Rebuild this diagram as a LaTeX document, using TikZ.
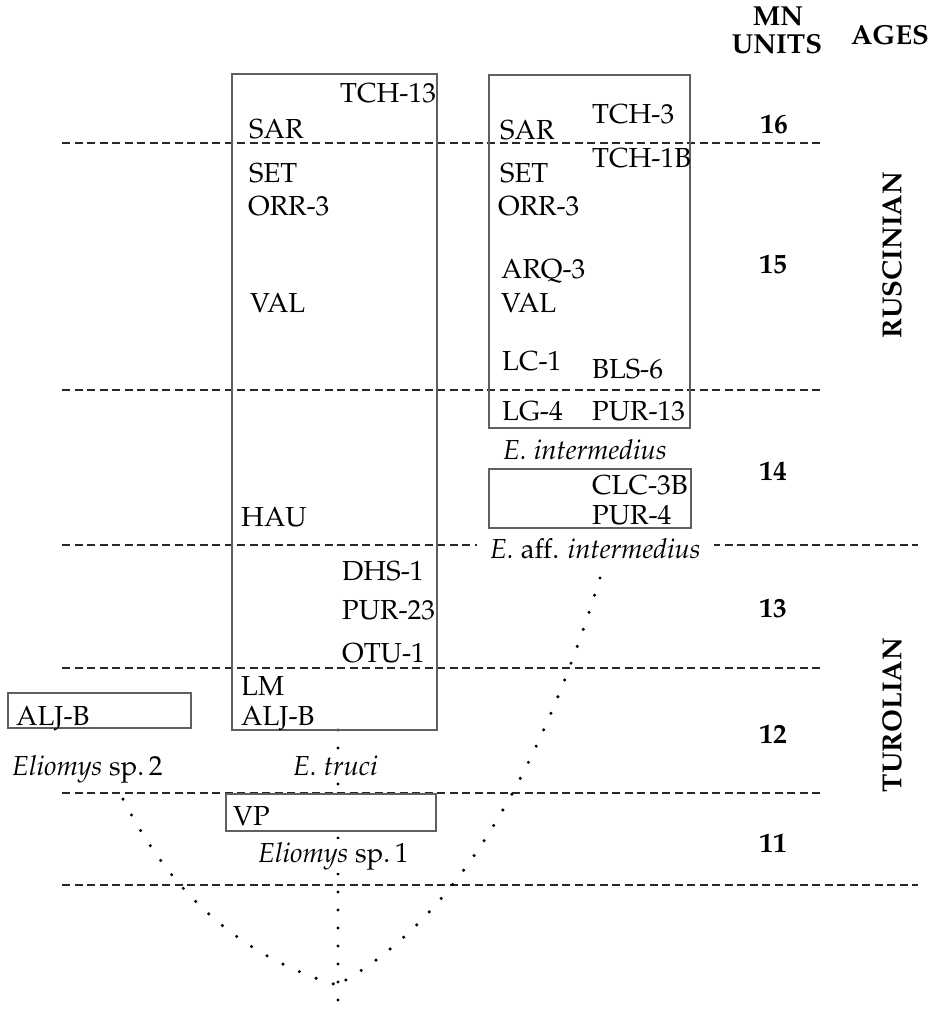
\documentclass[tikz,border=0pt]{standalone}
\usepackage[T1]{fontenc}
\usepackage{mathpazo}
\usepackage{tikz}
\usetikzlibrary{positioning}
\definecolor{rangegray}{RGB}{95,95,95}
\definecolor{zonegray} {RGB}{40,40,40}
\tikzset{
  site/.style={font=\fontsize{27.5}{33}\selectfont,inner sep=0pt,
               anchor=base west},
  taxon/.style={site,fill=white,inner ysep=3pt},
  unit/.style={font=\fontsize{27.5}{33}\selectfont\bfseries,
               inner sep=0pt,anchor=base},
  age/.style={unit,rotate=90,anchor=center},
  zone/.style={draw=zonegray,line width=1.3pt,
               dash pattern=on 8pt off 4.5pt},
  rangebox/.style={draw=rangegray,line width=1.3pt,inner sep=0pt},
  lineage/.style={line width=3.4pt,line cap=round,
                  dash pattern=on 0pt off 18pt},
}

\begin{document}
\begin{tikzpicture}[x=1pt,y=-1pt]
  \useasboundingbox (0,0) rectangle (933,1020);

  % MN limits
  \draw[zone] (62,143) -- (821,143);
  \draw[zone] (62,390) -- (821,390);
  \draw[zone] (62,545) -- (918,545);
  \draw[zone] (62,668) -- (821,668);
  \draw[zone] (62,793) -- (821,793);
  \draw[zone] (62,885) -- (918,885);

  % lineages
  \coordinate (truciFoot) at (338,730);
  \coordinate (root)      at (338,1017);
  \coordinate (fork)      at (337,985);
  \coordinate (sp2Foot)   at (115,783);
  \coordinate (affFoot)   at (600,578);
  \draw[lineage] (truciFoot) -- (root);
  \draw[lineage] (sp2Foot) .. controls (165,889) and (238,956) .. (fork);
  \draw[lineage] (affFoot) .. controls (535,789) and (448,925) .. (fork);

  % ranges
  \node[rangebox,minimum width=205pt,minimum height=656pt](truciBox) at (334.5,402) {};
  \node[rangebox,minimum width=201pt,minimum height=353pt](interBox) at (589.5,251.5) {};
  \node[rangebox,minimum width=202pt,minimum height=59pt](affBox)    at (590,498.5) {};
  \node[rangebox,minimum width=183pt,minimum height=35pt](sp2Box)    at (99.5,710.5) {};
  \node[rangebox,fill=white,minimum width=210pt,minimum height=37pt](sp1Box) at (331,812.5) {};

  % E. truci localities
  \node[site](tTCH13) at (340,102) {TCH-13};
  \node[site](tSAR)   at (249,138) {SAR};
  \node[site](tSET)   at (249,182) {SET};
  \node[site](tORR)   at (248,215) {ORR-3};
  \node[site](tVAL)   at (250,312) {VAL};
  \node[site](tHAU)   at (241,526) {HAU};
  \node[site](tDHS)   at (342,580) {DHS-1};
  \node[site](tPUR)   at (342,619) {PUR-23};
  \node[site](tOTU)   at (342,662) {OTU-1};
  \node[site](tLM)    at (241,695) {LM};
  \node[site](tALJ)   at (241,725) {ALJ-B};

  % E. intermedius localities
  \node[site](iSAR)   at (500,139) {SAR};
  \node[site](iTCH3)  at (592,123) {TCH-3};
  \node[site](iTCH1B) at (592,167) {TCH-1B};
  \node[site](iSET)   at (500,182) {SET};
  \node[site](iORR)   at (498,215) {ORR-3};
  \node[site](iARQ)   at (501,278) {ARQ-3};
  \node[site](iVAL)   at (501,312) {VAL};
  \node[site](iLC)    at (502,370) {LC-1};
  \node[site](iBLS)   at (592,378) {BLS-6};
  \node[site](iLG)    at (502,420) {LG-4};
  \node[site](iPUR)   at (592,420) {PUR-13};

  % E. aff. intermedius, Eliomys sp.
  \node[site](aCLC)   at (592,494) {CLC-3B};
  \node[site](aPUR)   at (592,524) {PUR-4};
  \node[site](sALJ)   at (16,725)  {ALJ-B};
  \node[site](sVP)    at (233,825) {VP};

  % taxa
  \node[taxon](interName) at (503,459) {\textit{E. intermedius}};
  \node[taxon,inner xsep=13pt](affName) at (477,558) {\textit{E.} aff. \textit{intermedius}};
  \node[taxon](truciName) at (293,775) {\textit{E. truci}};
  \node[taxon](sp2Name)   at (12,775)  {\textit{Eliomys} sp.\,2};
  \node[taxon](sp1Name)   at (258,862) {\textit{Eliomys} sp.\,1};

  % units and ages
  \node[unit](mn)    at (778,25)  {MN};
  \node[unit](units) at (777,53)  {UNITS};
  \node[unit](ages)  at (890,44)  {AGES};
  \node[unit](mn16)  at (774,133) {16};
  \node[unit](mn15)  at (773,273) {15};
  \node[unit](mn14)  at (773,480) {14};
  \node[unit](mn13)  at (773,617) {13};
  \node[unit](mn12)  at (773,743) {12};
  \node[unit](mn11)  at (773,852) {11};
  \node[age](rusc)   at (892,255) {RUSCINIAN};
  \node[age](turol)  at (892,715) {TUROLIAN};
\end{tikzpicture}
\end{document}
